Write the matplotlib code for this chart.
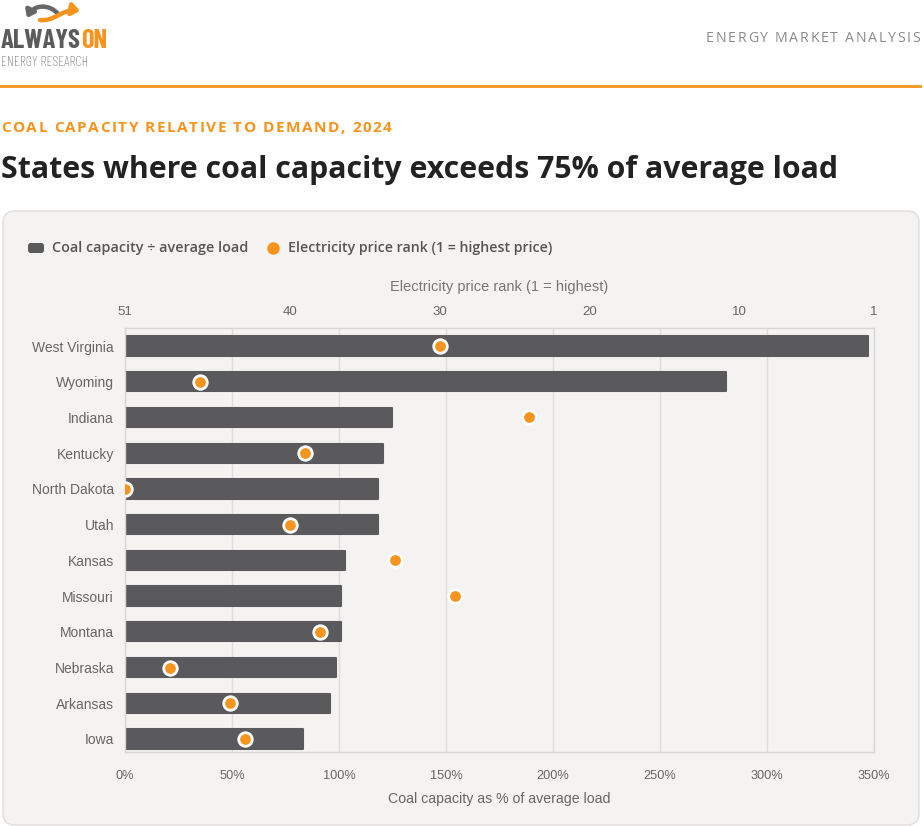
import matplotlib
matplotlib.use("Agg")
import matplotlib.pyplot as plt
from matplotlib.patches import FancyBboxPatch, FancyArrowPatch
from matplotlib.path import Path
from matplotlib.lines import Line2D

states = ["West Virginia", "Wyoming", "Indiana", "Kentucky", "North Dakota", "Utah",
          "Kansas", "Missouri", "Montana", "Nebraska", "Arkansas", "Iowa"]
coal_pct = [347, 281, 125, 120.5, 118, 118, 103, 101, 101, 98.5, 96, 83]
price_rank = [30, 46, 24, 39, 51, 40, 33, 29, 38, 48, 44, 43]
x_ticks = [0, 50, 100, 150, 200, 250, 300, 350]
rank_ticks = [51, 40, 30, 20, 10, 1]

W, H = 924, 826
ORANGE = "#f7941d"
BAR = "#5a5a5c"
CARD = "#f4f3f1"
LOGO_FONT = ["Barlow Condensed", "DejaVu Sans"]

fig = plt.figure(figsize=(W / 100, H / 100), dpi=100)
fig.patch.set_facecolor("white")
renderer = fig.canvas.get_renderer()

def fx(px):
    return px / W

def fy(py):
    return 1 - py / H

def spaced_text(x_px, y_px, s, spacing, ha="left", **kw):
    widths = []
    for ch in s:
        if ch == " ":
            t2 = fig.text(0, 0, "n n", **kw)
            t3 = fig.text(0, 0, "nn", **kw)
            w = t2.get_window_extent(renderer).width - t3.get_window_extent(renderer).width
            t2.remove(); t3.remove()
        else:
            t = fig.text(0, 0, ch, **kw)
            w = t.get_window_extent(renderer).width
            t.remove()
        widths.append(w)
    total = sum(widths) + spacing * (len(s) - 1)
    x = x_px - total if ha == "right" else x_px
    for ch, w in zip(s, widths):
        if ch != " ":
            fig.text(fx(x), fy(y_px), ch, ha="left", va="center", **kw)
        x += w + spacing

# card background
card = FancyBboxPatch((fx(3), fy(825)), fx(916), (825 - 211) / H,
                      boxstyle="round,pad=0,rounding_size=0.013",
                      transform=fig.transFigure, facecolor=CARD,
                      edgecolor="#e0deda", linewidth=1.0, zorder=-5,
                      mutation_aspect=W / H)
fig.patches.append(card)

# header
spaced_text(920, 38, "ENERGY MARKET ANALYSIS", 1.7, ha="right", fontsize=10.2,
            color="#8a8a8a", family="Open Sans")
fig.add_artist(Line2D([0, fx(920)], [fy(86), fy(86)], transform=fig.transFigure,
                      color=ORANGE, lw=2))

# logo
t_al = fig.text(fx(1), fy(41), "ALWAYS", ha="left", va="center", fontsize=19.2,
                fontweight="bold", color="#5b5b5b", family=LOGO_FONT)
w_al = t_al.get_window_extent(renderer).width
fig.text(fx(1 + w_al), fy(41), "ON", ha="left", va="center", fontsize=19.2,
         fontweight="bold", color=ORANGE, family=LOGO_FONT)
fig.text(fx(1), fy(62), "ENERGY RESEARCH", ha="left", va="center", fontsize=10.2,
         fontweight="light", color="#5b5b5b", family=LOGO_FONT)

def swoosh(pts, color, hl, hw):
    codes = [Path.MOVETO, Path.CURVE4, Path.CURVE4, Path.CURVE4]
    p = Path([(fx(a), fy(b)) for a, b in pts], codes)
    arr = FancyArrowPatch(path=p, transform=fig.transFigure,
                          arrowstyle=f"-|>,head_length={hl},head_width={hw}",
                          color=color, lw=3.2, shrinkA=0, shrinkB=0)
    fig.add_artist(arr)

swoosh([(58, 14), (50, 4), (34, 4), (27, 18)], "#666666", 4, 3)
swoosh([(40, 20), (54, 22), (64, 8), (80, 11)], ORANGE, 4.5, 3.5)

# titles
spaced_text(1, 128, "COAL CAPACITY RELATIVE TO DEMAND, 2024", 1.5, fontsize=11.1,
            fontweight="bold", color=ORANGE, family="Open Sans")
fig.text(fx(1), fy(170), "States where coal capacity exceeds 75% of average load",
         ha="left", va="center", fontsize=21.8, fontweight="bold", color="#222222",
         family="Open Sans")

# legend
fig.patches.append(FancyBboxPatch((fx(28), fy(253)), fx(16), 10 / H,
                                  boxstyle="round,pad=0,rounding_size=0.003",
                                  transform=fig.transFigure, facecolor=BAR,
                                  edgecolor="none", mutation_aspect=W / H))
fig.text(fx(52), fy(248), "Coal capacity ÷ average load", ha="left", va="center",
         fontsize=10.4, fontweight="semibold", color="#555555", family="Open Sans")
fig.add_artist(Line2D([fx(273)], [fy(248)], transform=fig.transFigure, marker="o",
                      markersize=9, color=ORANGE, markeredgewidth=0))
fig.text(fx(288), fy(248), "Electricity price rank (1 = highest price)", ha="left",
         va="center", fontsize=10.2, fontweight="semibold", color="#555555", family="Open Sans")

# axes
ax = fig.add_axes([fx(125), fy(752), fx(874 - 125), (752 - 328) / H])
ax.set_facecolor(CARD)
ypos = list(range(len(states)))
ax.barh(ypos, coal_pct, height=0.54, color=BAR, edgecolor=BAR, linewidth=1.5,
        joinstyle="round", zorder=2)
ax.set_xlim(0, 350)
ax.set_ylim(len(states) - 1 + 0.364, -0.504)
ax.set_xticks(x_ticks)
ax.set_xticklabels([f"{v}%" for v in x_ticks], family="Liberation Sans",
                   fontsize=9.2, color="#666666")
ax.set_yticks(ypos)
ax.set_yticklabels(states, fontsize=10, color="#666666", family="Liberation Sans")
ax.tick_params(axis="x", length=0, pad=13)
ax.tick_params(axis="y", length=0, pad=8)
ax.grid(axis="x", color="#dddddd", lw=1, zorder=0)
ax.set_axisbelow(True)
for s in ax.spines.values():
    s.set_color("#d6d6d6")
    s.set_linewidth(1)
ax.set_xlabel("Coal capacity as % of average load", fontsize=10.2, color="#666666",
              family="Liberation Sans", labelpad=7)

ax2 = ax.twiny()
ax2.patch.set_visible(False)
ax2.set_xlim(51, 1)
ax2.set_xticks(rank_ticks)
ax2.set_xticklabels([str(v) for v in rank_ticks], fontsize=9.5, color="#666666",
                    family="Liberation Sans")
ax2.tick_params(axis="x", length=0, pad=7)
for s in ax2.spines.values():
    s.set_visible(False)
ax2.scatter(price_rank, ypos, s=95, color=ORANGE, edgecolor="white", linewidth=2, zorder=5)
ax2.set_ylim(ax.get_ylim())
ax2.set_xlabel("Electricity price rank (1 = highest)", fontsize=10.5, color="#777777",
               family="Liberation Sans", labelpad=11)

fig.savefig("out.png", dpi=100, facecolor="white")
